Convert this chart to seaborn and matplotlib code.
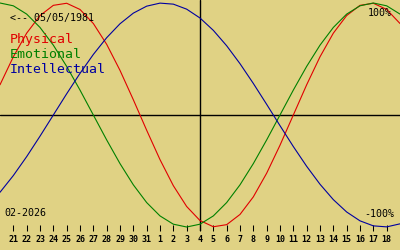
import matplotlib
matplotlib.use("Agg")
import matplotlib.pyplot as plt
import seaborn as sns
import pandas as pd

# Day offsets relative to the selected date (04 Feb 2026)
days = list(range(-15, 16))

physical = [0.2698, 0.5196, 0.7308, 0.8879, 0.9791, 0.9977, 0.9423, 0.8170,
            0.6311, 0.3984, 0.1362, -0.1362, -0.3984, -0.6311, -0.8170, -0.9423,
            -0.9977, -0.9791, -0.8879, -0.7308, -0.5196, -0.2698, 0.0, 0.2698,
            0.5196, 0.7308, 0.8879, 0.9791, 0.9977, 0.9423, 0.8170]
emotional = [1.0, 0.9749, 0.9010, 0.7818, 0.6235, 0.4339, 0.2225, 0.0,
             -0.2225, -0.4339, -0.6235, -0.7818, -0.9010, -0.9749, -1.0, -0.9749,
             -0.9010, -0.7818, -0.6235, -0.4339, -0.2225, 0.0, 0.2225, 0.4339,
             0.6235, 0.7818, 0.9010, 0.9749, 1.0, 0.9749, 0.9010]
intellectual = [-0.6901, -0.5406, -0.3717, -0.1893, 0.0, 0.1893, 0.3717, 0.5406,
                0.6901, 0.8146, 0.9096, 0.9718, 0.9989, 0.9898, 0.9450, 0.8660,
                0.7557, 0.6182, 0.4582, 0.2817, 0.0951, -0.0951, -0.2817, -0.4582,
                -0.6182, -0.7557, -0.8660, -0.9450, -0.9898, -0.9989, -0.9718]

series_names = ["Physical", "Emotional", "Intellectual"]
series_colors = ["#e00000", "#008000", "#0000a0"]

tick_days = list(range(-14, 15))
tick_labels = ["21", "22", "23", "24", "25", "26", "27", "28", "29", "30", "31",
               "1", "2", "3", "4", "5", "6", "7", "8", "9", "10", "11", "12",
               "13", "14", "15", "16", "17", "18"]

birth_label = "<-- 05/05/1981"
month_label = "02-2026"
top_label = "100%"
bottom_label = "-100%"

bg = "#e0d284"

df = pd.DataFrame({
    "day": days * 3,
    "value": physical + emotional + intellectual,
    "series": [series_names[0]] * len(days) + [series_names[1]] * len(days)
              + [series_names[2]] * len(days),
})

sns.set_theme(style="white")
plt.rcParams["font.family"] = ["DejaVu Sans Mono", "DejaVu Sans"]

fig = plt.figure(figsize=(4, 2.5), dpi=100, facecolor=bg)
ax = fig.add_axes([0, 19 / 250, 1, 231 / 250])
ax.set_facecolor(bg)

ax.axhline(0, color="black", lw=1.0, zorder=1)
ax.axvline(0, color="black", lw=1.0, zorder=1)

sns.lineplot(data=df, x="day", y="value", hue="series", hue_order=series_names,
             palette=series_colors, linewidth=0.8, legend=False, ax=ax,
             zorder=2)

ax.set_xlim(-15, 15)
ax.set_ylim(-116 / 112, 115 / 112)
for s in ax.spines.values():
    s.set_visible(False)
ax.set_xlabel("")
ax.set_ylabel("")
ax.set_yticks([])
ax.set_xticks(tick_days)
ax.set_xticklabels(tick_labels, fontsize=6, fontweight="bold",
                   family=["DejaVu Sans Mono"])
ax.tick_params(axis="x", direction="in", length=4.3, width=0.75,
               color="black", pad=3, bottom=True, labelcolor="black")

fig.text(10 / 400, 1 - 21 / 250, birth_label, fontsize=7.2, color="black",
         va="baseline", ha="left")
fig.text(392 / 400, 1 - 16 / 250, top_label, fontsize=7.2, color="black",
         va="baseline", ha="right")
fig.text(4 / 400, 1 - 216 / 250, month_label, fontsize=7.2, color="black",
         va="baseline", ha="left")
fig.text(394 / 400, 1 - 217 / 250, bottom_label, fontsize=7.2, color="black",
         va="baseline", ha="right")
for i, (name, col) in enumerate(zip(series_names, series_colors)):
    fig.text(10 / 400, 1 - (43 + 15 * i) / 250, name, fontsize=9.5, color=col,
             va="baseline", ha="left")

fig.savefig("out.png", dpi=100, facecolor=bg)
